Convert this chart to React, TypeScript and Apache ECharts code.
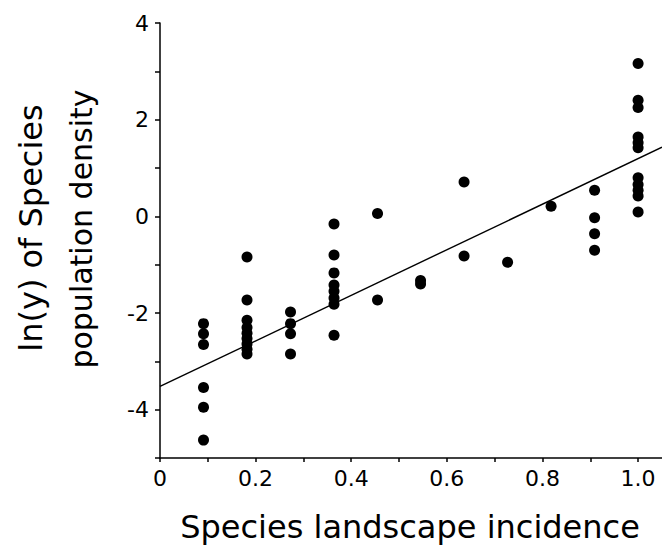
import React, { useEffect, useRef } from "react";
import * as echarts from "echarts";

// Species landscape incidence (x) of each column of points
const incidence = [0.091, 0.182, 0.273, 0.364, 0.455, 0.545, 0.636, 0.727, 0.818, 0.909, 1.0];

// ln(y) of species population density, one list per incidence column
const col1 = [-2.22, -2.43, -2.65, -3.54, -3.95, -4.63];
const col2 = [-0.84, -1.73, -2.15, -2.3, -2.42, -2.53, -2.64, -2.75, -2.85];
const col3 = [-1.98, -2.22, -2.43, -2.85];
const col4 = [-0.16, -0.8, -1.17, -1.42, -1.55, -1.69, -1.82, -2.46];
const col5 = [0.06, -1.73];
const col6 = [-1.33, -1.4];
const col7 = [0.71, -0.82];
const col8 = [-0.95];
const col9 = [0.21];
const col10 = [0.54, -0.03, -0.36, -0.7];
const col11 = [3.16, 2.4, 2.25, 1.64, 1.52, 1.42, 0.8, 0.66, 0.54, 0.42, 0.09];
const densities = [col1, col2, col3, col4, col5, col6, col7, col8, col9, col10, col11];

// Fitted regression line end points
const fitX = [0, 1.05];
const fitY = [-3.52, 1.43];

// Axis ticks and labels
const xTicks = [0, 0.1, 0.2, 0.3, 0.4, 0.5, 0.6, 0.7, 0.8, 0.9, 1.0];
const xLabels = [0, 0.2, 0.4, 0.6, 0.8, 1.0];
const yTicks = [-5, -4, -3, -2, -1, 0, 1, 2, 3, 4];
const yLabels = [-4, -2, 0, 2, 4];

const xTitle = "Species landscape incidence";
const yTitle1 = "ln(y) of Species";
const yTitle2 = "population density";

export default function App() {
  const ref = useRef<HTMLDivElement>(null);
  useEffect(() => {
    document.body.style.margin = "0";
    const chart = echarts.init(ref.current!, null, { renderer: "svg" });
    const points: number[][] = [];
    densities.forEach((col, i) => col.forEach((v) => points.push([incidence[i], v])));
    const font = "DejaVu Sans";
    chart.setOption({
      animation: false,
      backgroundColor: "#ffffff",
      grid: { left: 160, top: 23, right: 0, bottom: 89 },
      xAxis: {
        type: "value",
        min: 0,
        max: 1.05,
        splitLine: { show: false },
        axisLine: { onZero: false, lineStyle: { color: "#000", width: 1.5 } },
        axisTick: { show: true, length: 4, customValues: xTicks, lineStyle: { color: "#000", width: 1.5 } },
        axisLabel: {
          customValues: xLabels,
          color: "#000",
          fontFamily: font,
          fontSize: 22,
          margin: 9,
          formatter: (v: number) => (v === 0 ? "0" : v.toFixed(1)),
        },
      },
      yAxis: {
        type: "value",
        min: -5,
        max: 4,
        splitLine: { show: false },
        axisLine: { onZero: false, lineStyle: { color: "#000", width: 1.5 } },
        axisTick: { show: true, length: 5, customValues: yTicks, lineStyle: { color: "#000", width: 1.5 } },
        axisLabel: {
          customValues: yLabels,
          color: "#000",
          fontFamily: font,
          fontSize: 22,
          margin: 11,
          formatter: (v: number) => String(v),
        },
      },
      series: [
        {
          type: "line",
          data: fitX.map((x, i) => [x, fitY[i]]),
          symbol: "none",
          lineStyle: { color: "#000", width: 1.4 },
          silent: true,
        },
        {
          type: "scatter",
          data: points,
          symbol: "circle",
          symbolSize: 11,
          itemStyle: { color: "#000", opacity: 1 },
        },
      ],
      graphic: [
        {
          type: "text",
          x: 410,
          y: 527,
          style: {
            text: xTitle,
            fontFamily: font,
            fontSize: 32,
            fill: "#000",
            align: "center",
            verticalAlign: "middle",
          },
        },
        {
          type: "text",
          x: 31,
          y: 228,
          rotation: Math.PI / 2,
          style: {
            text: yTitle1,
            fontFamily: font,
            fontSize: 32,
            fill: "#000",
            align: "center",
            verticalAlign: "middle",
          },
        },
        {
          type: "text",
          x: 81,
          y: 229,
          rotation: Math.PI / 2,
          style: {
            text: yTitle2,
            fontFamily: font,
            fontSize: 30,
            fill: "#000",
            align: "center",
            verticalAlign: "middle",
          },
        },
      ],
    });
    return () => chart.dispose();
  }, []);
  return <div ref={ref} style={{ width: 662, height: 547 }} />;
}
